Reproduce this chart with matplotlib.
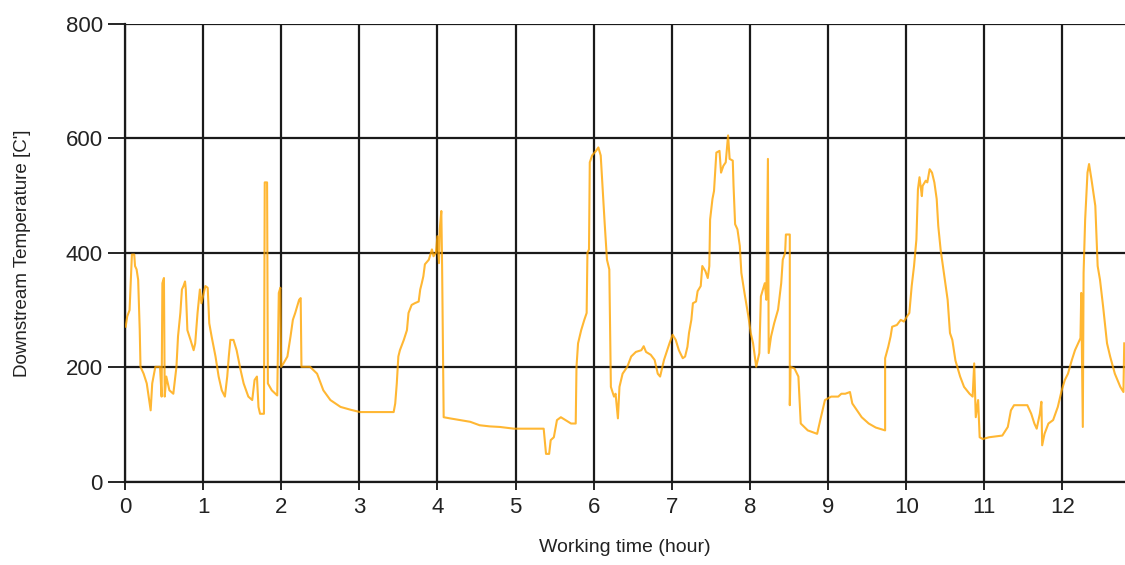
import numpy as np
import matplotlib
matplotlib.use('Agg')
import matplotlib.pyplot as plt

plt.rcParams['font.family'] = ['Liberation Sans', 'DejaVu Sans']

# Working time in hours and downstream temperature
hours = [
    0.01, 0.03, 0.06, 0.09, 0.12, 0.13, 0.15, 0.17, 0.19, 0.2, 0.24, 0.28, 0.33, 0.35, 0.39,
    0.45, 0.47, 0.48, 0.5, 0.51, 0.53, 0.57, 0.62, 0.66, 0.68, 0.71, 0.73, 0.75, 0.77, 0.78,
    0.8, 0.84, 0.88, 0.9, 0.93, 0.96, 0.98, 1.0, 1.03, 1.06, 1.08, 1.11, 1.16, 1.2, 1.24,
    1.28, 1.31, 1.33, 1.35, 1.39, 1.43, 1.48, 1.52, 1.58, 1.63, 1.66, 1.69, 1.71, 1.73, 1.78,
    1.79, 1.82, 1.83, 1.88, 1.95, 1.97, 1.99, 2.0, 2.03, 2.08, 2.12, 2.15, 2.18, 2.23, 2.25,
    2.26, 2.37, 2.46, 2.54, 2.63, 2.76, 2.89, 3.01, 3.44, 3.46, 3.48, 3.5, 3.52, 3.57, 3.61,
    3.63, 3.67, 3.71, 3.76, 3.78, 3.8, 3.82, 3.84, 3.89, 3.93, 3.95, 3.98, 4.0, 4.02, 4.03,
    4.05, 4.06, 4.08, 4.16, 4.29, 4.42, 4.54, 4.67, 4.8, 4.98, 5.36, 5.39, 5.43, 5.45, 5.49,
    5.53, 5.58, 5.64, 5.71, 5.77, 5.78, 5.8, 5.84, 5.88, 5.91, 5.92, 5.94, 5.95, 5.98, 6.03,
    6.06, 6.09, 6.11, 6.14, 6.17, 6.2, 6.22, 6.26, 6.28, 6.31, 6.33, 6.37, 6.43, 6.48, 6.54,
    6.61, 6.64, 6.67, 6.73, 6.78, 6.82, 6.85, 6.9, 6.97, 7.01, 7.05, 7.09, 7.14, 7.17, 7.2,
    7.22, 7.25, 7.27, 7.31, 7.33, 7.37, 7.39, 7.43, 7.46, 7.48, 7.49, 7.52, 7.54, 7.57, 7.61,
    7.63, 7.66, 7.69, 7.72, 7.74, 7.78, 7.79, 7.81, 7.84, 7.87, 7.89, 7.93, 7.98, 8.01, 8.04,
    8.08, 8.12, 8.14, 8.19, 8.21, 8.23, 8.24, 8.27, 8.31, 8.36, 8.4, 8.42, 8.45, 8.46, 8.51,
    8.51, 8.52, 8.57, 8.62, 8.65, 8.74, 8.86, 8.9, 8.96, 9.04, 9.13, 9.17, 9.22, 9.28, 9.31,
    9.37, 9.43, 9.52, 9.61, 9.73, 9.73, 9.77, 9.8, 9.82, 9.88, 9.93, 9.97, 10.01, 10.04, 10.07,
    10.1, 10.13, 10.15, 10.17, 10.2, 10.21, 10.25, 10.27, 10.3, 10.33, 10.36, 10.39, 10.41,
    10.44, 10.47, 10.5, 10.53, 10.56, 10.59, 10.63, 10.69, 10.74, 10.81, 10.85, 10.87, 10.89,
    10.92, 10.94, 10.98, 11.06, 11.23, 11.3, 11.34, 11.38, 11.55, 11.6, 11.64, 11.67, 11.71,
    11.73, 11.74, 11.77, 11.82, 11.88, 11.94, 11.99, 12.03, 12.07, 12.12, 12.16, 12.2, 12.23,
    12.24, 12.26, 12.27, 12.29, 12.32, 12.34, 12.37, 12.42, 12.45, 12.48, 12.52, 12.57, 12.61,
    12.67, 12.74, 12.78, 12.79,
]
temperature = [
    271, 289, 300, 397, 397, 377, 371, 353, 266, 201, 189, 172, 125, 172, 201,
    201, 149, 347, 356, 149, 184, 160, 154, 201, 254, 295, 336, 342, 350, 336,
    265, 248, 230, 242, 295, 336, 312, 324, 342, 339, 277, 254, 219, 184, 160,
    149, 184, 219, 248, 248, 230, 196, 172, 149, 143, 178, 184, 131, 119, 119,
    523, 523, 172, 160, 151, 330, 339, 201, 207, 219, 254, 283, 295, 318, 321,
    201, 201, 189, 160, 143, 131, 126, 122, 122, 137, 172, 219, 230, 248, 265,
    295, 309, 312, 315, 336, 347, 359, 380, 388, 406, 394, 400, 429, 382, 441,
    473, 377, 113, 111, 108, 105, 99, 97, 96, 93, 93, 49, 49, 73, 78,
    108, 113, 108, 102, 102, 201, 242, 265, 283, 295, 400, 406, 558, 570, 578,
    584, 570, 523, 453, 388, 371, 166, 149, 154, 111, 166, 189, 201, 219, 227,
    230, 237, 227, 222, 213, 189, 184, 213, 242, 257, 248, 230, 216, 219, 236,
    260, 283, 312, 315, 333, 342, 377, 368, 356, 377, 458, 494, 508, 575, 578,
    540, 552, 558, 605, 564, 561, 517, 450, 441, 412, 365, 330, 289, 260, 242,
    201, 225, 324, 347, 318, 564, 225, 254, 277, 301, 347, 388, 400, 432, 432,
    134, 201, 198, 184, 102, 90, 84, 108, 143, 149, 149, 154, 154, 157, 137,
    125, 113, 102, 95, 90, 216, 236, 254, 271, 274, 283, 280, 289, 295, 342,
    377, 423, 511, 532, 499, 517, 526, 523, 546, 540, 523, 494, 447,
    406, 377, 347, 318, 260, 248, 212, 184, 166, 154, 149, 207, 113,
    143, 78, 75, 78, 81, 96, 125, 134, 134, 119, 102, 93, 119,
    140, 64, 84, 102, 108, 131, 160, 178, 189, 213, 230, 242, 251,
    330, 96, 365, 458, 540, 555, 529, 482, 377, 353, 306, 242, 219,
    189, 166, 157, 242,
]

x_ticks = list(range(0, 13))
y_ticks = [0, 200, 400, 600, 800]

fig = plt.figure(figsize=(11.25, 5.65), dpi=100)
ax = fig.add_axes([0.111, 0.147, 0.889, 0.811])

ax.plot(hours, temperature, color='#FFA500', alpha=0.8, lw=1.5, zorder=3)

ax.set_xlim(0, 12.8)
ax.set_ylim(0, 800)
ax.set_xticks(x_ticks)
ax.set_yticks(y_ticks)
ax.grid(True, color='#1a1a1a', lw=1.6)
ax.set_axisbelow(True)

for side in ['top', 'right']:
    ax.spines[side].set_visible(False)
for side in ['left', 'bottom']:
    ax.spines[side].set_linewidth(1.6)
    ax.spines[side].set_color('#1a1a1a')

ax.tick_params(axis='y', direction='out', length=12, width=1.2, pad=4,
               labelsize=16, labelcolor='#222222')
ax.tick_params(axis='x', direction='out', length=6, width=1.2, pad=5,
               labelsize=16, labelcolor='#222222')

ax.set_xlabel('Working time (hour)', fontsize=14, color='#222222')
ax.set_ylabel("Downstream Temperature [C']", fontsize=13.5, color='#222222')
ax.xaxis.set_label_coords(0.5, -0.125)
ax.yaxis.set_label_coords(-0.094, 0.5)

fig.savefig('out.png', dpi=100)
